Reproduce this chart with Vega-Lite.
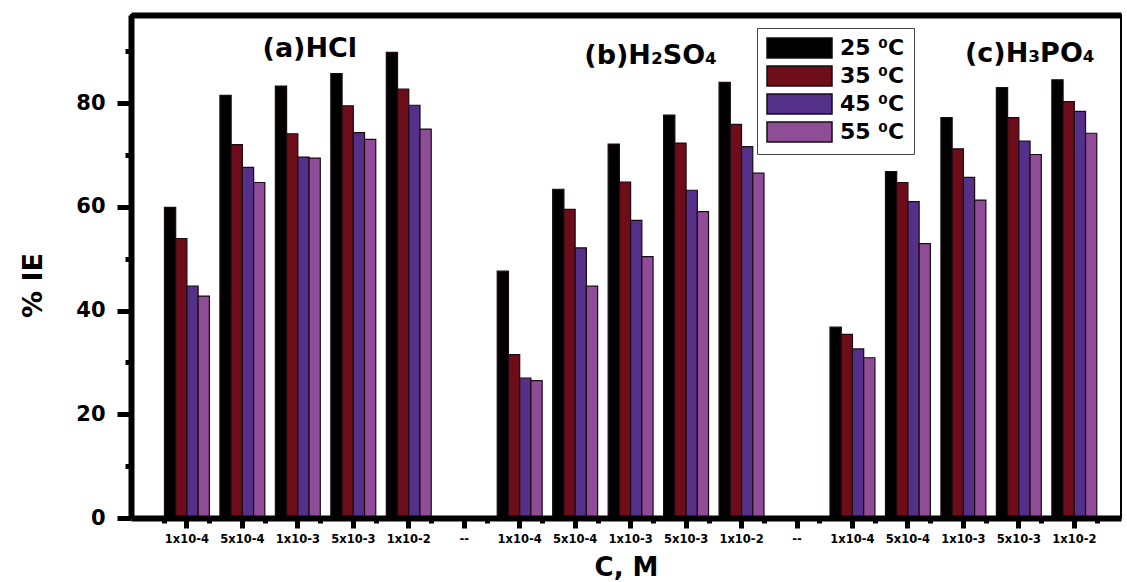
{
  "$schema": "https://vega.github.io/schema/vega-lite/v6.json",
  "width": 990,
  "height": 503,
  "autosize": {"type": "none"},
  "padding": {"left": 131, "top": 15, "right": 6, "bottom": 64},
  "background": "white",
  "config": {"view": {"stroke": "#000", "strokeWidth": 2}, "font": "DejaVu Sans"},
  "data": {"values": [
    {"slot": "a|1x10-4", "temp": "25 ⁰C", "ie": 59.9},
    {"slot": "a|1x10-4", "temp": "35 ⁰C", "ie": 53.9},
    {"slot": "a|1x10-4", "temp": "45 ⁰C", "ie": 44.7},
    {"slot": "a|1x10-4", "temp": "55 ⁰C", "ie": 42.8},
    {"slot": "a|5x10-4", "temp": "25 ⁰C", "ie": 81.5},
    {"slot": "a|5x10-4", "temp": "35 ⁰C", "ie": 72.0},
    {"slot": "a|5x10-4", "temp": "45 ⁰C", "ie": 67.6},
    {"slot": "a|5x10-4", "temp": "55 ⁰C", "ie": 64.7},
    {"slot": "a|1x10-3", "temp": "25 ⁰C", "ie": 83.3},
    {"slot": "a|1x10-3", "temp": "35 ⁰C", "ie": 74.1},
    {"slot": "a|1x10-3", "temp": "45 ⁰C", "ie": 69.6},
    {"slot": "a|1x10-3", "temp": "55 ⁰C", "ie": 69.4},
    {"slot": "a|5x10-3", "temp": "25 ⁰C", "ie": 85.7},
    {"slot": "a|5x10-3", "temp": "35 ⁰C", "ie": 79.5},
    {"slot": "a|5x10-3", "temp": "45 ⁰C", "ie": 74.3},
    {"slot": "a|5x10-3", "temp": "55 ⁰C", "ie": 73.0},
    {"slot": "a|1x10-2", "temp": "25 ⁰C", "ie": 89.8},
    {"slot": "a|1x10-2", "temp": "35 ⁰C", "ie": 82.7},
    {"slot": "a|1x10-2", "temp": "45 ⁰C", "ie": 79.6},
    {"slot": "a|1x10-2", "temp": "55 ⁰C", "ie": 75.0},
    {"slot": "b|1x10-4", "temp": "25 ⁰C", "ie": 47.6},
    {"slot": "b|1x10-4", "temp": "35 ⁰C", "ie": 31.5},
    {"slot": "b|1x10-4", "temp": "45 ⁰C", "ie": 27.0},
    {"slot": "b|1x10-4", "temp": "55 ⁰C", "ie": 26.5},
    {"slot": "b|5x10-4", "temp": "25 ⁰C", "ie": 63.4},
    {"slot": "b|5x10-4", "temp": "35 ⁰C", "ie": 59.5},
    {"slot": "b|5x10-4", "temp": "45 ⁰C", "ie": 52.1},
    {"slot": "b|5x10-4", "temp": "55 ⁰C", "ie": 44.7},
    {"slot": "b|1x10-3", "temp": "25 ⁰C", "ie": 72.1},
    {"slot": "b|1x10-3", "temp": "35 ⁰C", "ie": 64.8},
    {"slot": "b|1x10-3", "temp": "45 ⁰C", "ie": 57.4},
    {"slot": "b|1x10-3", "temp": "55 ⁰C", "ie": 50.4},
    {"slot": "b|5x10-3", "temp": "25 ⁰C", "ie": 77.7},
    {"slot": "b|5x10-3", "temp": "35 ⁰C", "ie": 72.3},
    {"slot": "b|5x10-3", "temp": "45 ⁰C", "ie": 63.2},
    {"slot": "b|5x10-3", "temp": "55 ⁰C", "ie": 59.1},
    {"slot": "b|1x10-2", "temp": "25 ⁰C", "ie": 84.0},
    {"slot": "b|1x10-2", "temp": "35 ⁰C", "ie": 75.9},
    {"slot": "b|1x10-2", "temp": "45 ⁰C", "ie": 71.6},
    {"slot": "b|1x10-2", "temp": "55 ⁰C", "ie": 66.5},
    {"slot": "c|1x10-4", "temp": "25 ⁰C", "ie": 36.8},
    {"slot": "c|1x10-4", "temp": "35 ⁰C", "ie": 35.4},
    {"slot": "c|1x10-4", "temp": "45 ⁰C", "ie": 32.6},
    {"slot": "c|1x10-4", "temp": "55 ⁰C", "ie": 30.9},
    {"slot": "c|5x10-4", "temp": "25 ⁰C", "ie": 66.8},
    {"slot": "c|5x10-4", "temp": "35 ⁰C", "ie": 64.7},
    {"slot": "c|5x10-4", "temp": "45 ⁰C", "ie": 61.0},
    {"slot": "c|5x10-4", "temp": "55 ⁰C", "ie": 52.9},
    {"slot": "c|1x10-3", "temp": "25 ⁰C", "ie": 77.2},
    {"slot": "c|1x10-3", "temp": "35 ⁰C", "ie": 71.2},
    {"slot": "c|1x10-3", "temp": "45 ⁰C", "ie": 65.7},
    {"slot": "c|1x10-3", "temp": "55 ⁰C", "ie": 61.3},
    {"slot": "c|5x10-3", "temp": "25 ⁰C", "ie": 83.0},
    {"slot": "c|5x10-3", "temp": "35 ⁰C", "ie": 77.2},
    {"slot": "c|5x10-3", "temp": "45 ⁰C", "ie": 72.7},
    {"slot": "c|5x10-3", "temp": "55 ⁰C", "ie": 70.1},
    {"slot": "c|1x10-2", "temp": "25 ⁰C", "ie": 84.5},
    {"slot": "c|1x10-2", "temp": "35 ⁰C", "ie": 80.3},
    {"slot": "c|1x10-2", "temp": "45 ⁰C", "ie": 78.4},
    {"slot": "c|1x10-2", "temp": "55 ⁰C", "ie": 74.2}
  ]},
  "layer": [
    {
      "mark": {"type": "bar", "stroke": "#1c0a14", "strokeWidth": 1.2},
      "encoding": {
        "x": {
          "field": "slot", "type": "nominal",
          "scale": {
            "domain": ["a|1x10-4", "a|5x10-4", "a|1x10-3", "a|5x10-3", "a|1x10-2", "d1|--",
                       "b|1x10-4", "b|5x10-4", "b|1x10-3", "b|5x10-3", "b|1x10-2", "d2|--",
                       "c|1x10-4", "c|5x10-4", "c|1x10-3", "c|5x10-3", "c|1x10-2"],
            "paddingInner": 0.19, "paddingOuter": 0.52, "align": 0.58
          },
          "axis": {
            "orient": "bottom", "title": "C, M",
            "labelExpr": "split(datum.label, '|')[1]",
            "labelAngle": 0, "labelFont": "DejaVu Sans", "labelFontWeight": "bold", "labelFontSize": 11.5,
            "labelColor": "#000", "labelPadding": 5,
            "tickSize": 10, "tickWidth": 5, "tickColor": "#000",
            "domainWidth": 6, "domainColor": "#000",
            "titleFont": "DejaVu Sans", "titleFontSize": 26, "titleFontWeight": "bold", "titleColor": "#000", "titlePadding": 10,
            "grid": false, "zindex": 1
          }
        },
        "xOffset": {"field": "temp", "type": "nominal", "scale": {"paddingInner": 0, "paddingOuter": 0}},
        "y": {
          "field": "ie", "type": "quantitative",
          "scale": {"domain": [0, 97], "nice": false, "zero": true},
          "axis": {
            "values": [0, 10, 20, 30, 40, 50, 60, 70, 80, 90],
            "labelExpr": "datum.value % 20 === 0 ? datum.label : ''",
            "tickSize": {"condition": {"test": "datum.value % 20 === 0", "value": 14}, "value": 6},
            "tickWidth": 5, "tickColor": "#000",
            "domainWidth": 6, "domainColor": "#000",
            "labelFont": "DejaVu Sans", "labelFontSize": 21, "labelFontWeight": "bold", "labelColor": "#000", "labelPadding": 12,
            "title": "% IE", "titleFont": "DejaVu Sans", "titleFontSize": 27, "titleFontWeight": "bold", "titleColor": "#000",
            "titlePadding": 28, "titleY": 270, "grid": false, "zindex": 1
          }
        },
        "color": {
          "field": "temp", "type": "nominal",
          "scale": {"domain": ["25 ⁰C", "35 ⁰C", "45 ⁰C", "55 ⁰C"], "range": ["#000000", "#6c0d19", "#553088", "#8f4c97"]},
          "legend": {
            "title": null, "orient": "none", "legendX": 626, "legendY": 13, "direction": "vertical",
            "symbolType": "M-1,-1H5.5V1H-1Z", "symbolSize": 400,
            "symbolStrokeColor": "#111", "symbolStrokeWidth": 1.5, "symbolOpacity": 1,
            "labelFont": "DejaVu Sans", "labelFontSize": 22, "labelFontWeight": "bold", "labelColor": "#000",
            "labelOffset": 52, "labelLimit": 300, "rowPadding": 2, "padding": 9,
            "strokeColor": "#444", "fillColor": "#fff"
          }
        }
      }
    },
    {
      "data": {"values": [{}]},
      "mark": {"type": "text", "font": "DejaVu Sans", "fontWeight": "bold", "fontSize": 27, "dx": 12, "align": "center", "baseline": "alphabetic", "color": "#000"},
      "encoding": {
        "x": {"datum": "a|1x10-3", "type": "nominal",
              "axis": {"orient": "bottom", "tickBand": "extent", "tickExtra": true, "labels": false, "domain": false,
                       "tickSize": 5, "tickWidth": 5, "tickColor": "#000", "title": null, "grid": false, "zindex": 1}},
        "y": {"datum": 88.9, "type": "quantitative"},
        "text": {"value": "(a)HCl"}
      }
    },
    {
      "data": {"values": [{}]},
      "mark": {"type": "text", "font": "DejaVu Sans", "fontWeight": "bold", "fontSize": 27, "dx": 20, "align": "center", "baseline": "alphabetic", "color": "#000"},
      "encoding": {
        "x": {"datum": "b|1x10-3", "type": "nominal",
              "axis": {"orient": "top", "ticks": false, "labels": false, "domainWidth": 6, "domainColor": "#000", "title": null, "grid": false}},
        "y": {"datum": 87.5, "type": "quantitative"},
        "text": {"value": "(b)H₂SO₄"}
      }
    },
    {
      "data": {"values": [{}]},
      "mark": {"type": "text", "font": "DejaVu Sans", "fontWeight": "bold", "fontSize": 27, "dx": 11, "align": "center", "baseline": "alphabetic", "color": "#000"},
      "encoding": {
        "x": {"datum": "c|5x10-3", "type": "nominal", "axis": null},
        "y": {"datum": 87.9, "type": "quantitative"},
        "text": {"value": "(c)H₃PO₄"}
      }
    }
  ],
  "resolve": {"axis": {"x": "independent"}}
}
